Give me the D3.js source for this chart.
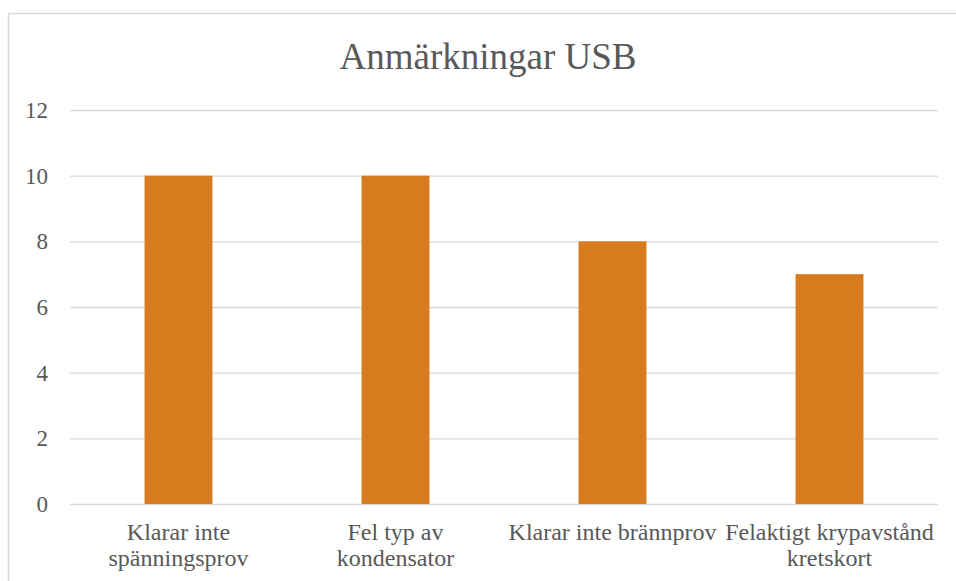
<!DOCTYPE html>
<html><head><meta charset="utf-8">
<script src="https://cdn.jsdelivr.net/npm/d3@7"></script>
<style>body{margin:0;background:#fff}svg{display:block}</style>
</head><body>
<script>
const title = "Anmärkningar USB";
const categories = ["Klarar inte\nspänningsprov", "Fel typ av\nkondensator", "Klarar inte brännprov", "Felaktigt krypavstånd\nkretskort"];
const values = [10, 10, 8, 7];
const yTicks = [0, 2, 4, 6, 8, 10, 12];

const W = 956, H = 581;
const svg = d3.select("body").append("svg").attr("width", W).attr("height", H);
const font = '"Liberation Serif", "Times New Roman", serif';
const textColor = "#595959";

svg.append("rect").attr("x", 8.5).attr("y", 13.5).attr("width", 1000).attr("height", 1000)
  .attr("fill", "#fff").attr("stroke", "#D9D9D9").attr("stroke-width", 1.5);

const m = {left: 70, right: 938, top: 110, bottom: 504};
const x = d3.scaleBand().domain(categories).range([m.left, m.right]).paddingInner(0.687).paddingOuter(0.3435);
const y = d3.scaleLinear().domain([0, 12]).range([m.bottom, m.top]);

svg.append("text").attr("x", 488).attr("y", 69).attr("text-anchor", "middle")
  .style("font-family", font).style("font-size", "37px").attr("fill", textColor).text(title);

const yAxis = d3.axisLeft(y).tickValues(yTicks).tickSize(-(m.right - m.left)).tickPadding(22);
const gy = svg.append("g").attr("transform", `translate(${m.left},0)`).call(yAxis);
gy.select(".domain").remove();
gy.selectAll(".tick line").attr("stroke", "#D9D9D9").attr("stroke-width", 1.3);
gy.selectAll(".tick text").style("font-family", font).style("font-size", "23px").attr("fill", textColor).attr("dy", "0.33em");

svg.append("g").selectAll("rect").data(values).join("rect")
  .attr("x", (d, i) => x(categories[i]))
  .attr("width", x.bandwidth())
  .attr("y", d => y(d))
  .attr("height", d => y(0) - y(d))
  .attr("fill", "#D67B1E");

const xAxis = d3.axisBottom(x).tickSize(0).tickFormat("");
const gx = svg.append("g").attr("transform", `translate(0,${m.bottom})`).call(xAxis);
gx.select(".domain").remove();
gx.selectAll(".tick").each(function(d) {
  const lines = d.split("\n");
  const t = d3.select(this).append("text").attr("text-anchor", "middle")
    .style("font-family", font).style("font-size", "24px").attr("fill", textColor);
  lines.forEach((ln, k) => t.append("tspan").attr("x", 0).attr("y", 36 + k * 26).text(ln));
});
</script>
</body></html>
